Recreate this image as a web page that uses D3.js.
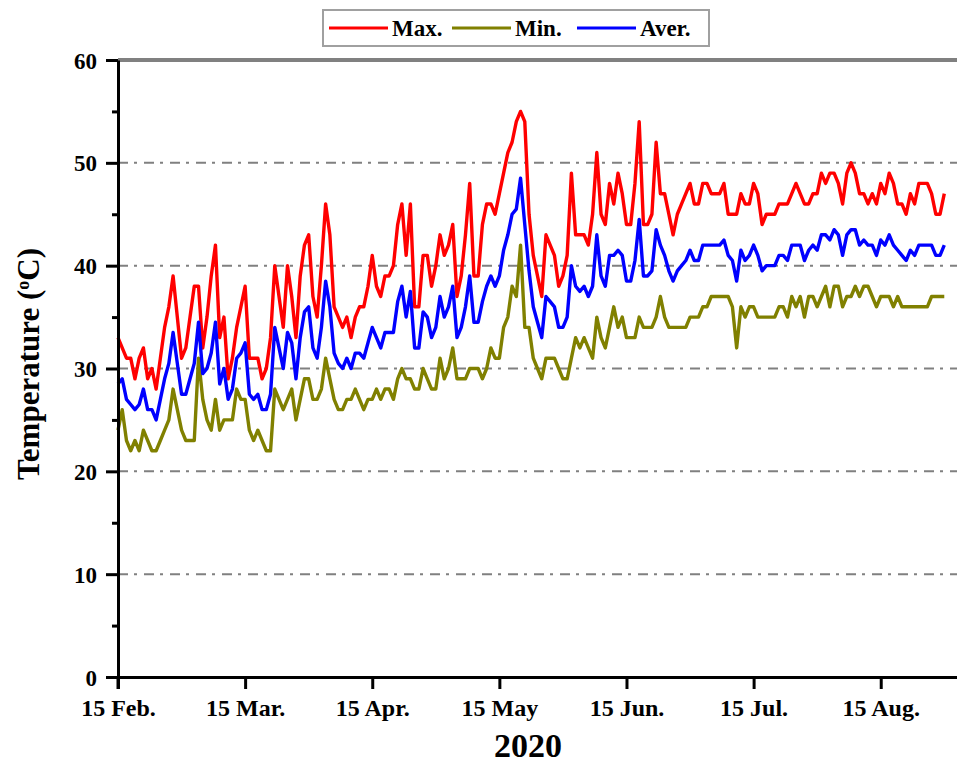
<!DOCTYPE html>
<html>
<head>
<meta charset="utf-8">
<script src="https://cdn.jsdelivr.net/npm/d3@7"></script>
<style>
	body { margin: 0; background: #fff; }
	svg text { font-family: "Liberation Serif", "Times New Roman", serif; font-weight: bold; fill: #000; }
</style>
</head>
<body>
<svg id="chart" width="957" height="765"></svg>
<script>
// daily readings, day 0 = 15 Feb 2020
var maxTemp = [
	33,32,31,31,29,31,32,29,30,28, 31,34,36,39,35,31,32,35,38,38,
	32,35,39,42,33,35,29,31,34,36, 38,31,31,31,29,30,33,40,37,34,
	40,37,33,39,42,43,37,35,40,46, 43,36,35,34,35,33,35,36,36,38,
	41,38,37,39,39,40,44,46,41,46, 36,36,41,41,38,40,43,41,42,44,
	37,39,43,48,39,39,44,46,46,45, 47,49,51,52,54,55,54,45,41,39,
	37,43,42,41,38,39,41,49,43,43, 43,42,45,51,45,44,48,46,49,47,
	44,44,48,54,44,44,45,52,47,47, 45,43,45,46,47,48,46,46,48,48,
	47,47,47,48,45,45,45,47,46,46, 48,47,44,45,45,45,46,46,46,47,
	48,47,46,46,47,47,49,48,49,49, 48,46,49,50,49,47,47,46,47,46,
	48,47,49,48,46,46,45,47,46,48, 48,48,47,45,45,47
];
var minTemp = [
	24,26,23,22,23,22,24,23,22,22, 23,24,25,28,26,24,23,23,23,31,
	27,25,24,27,24,25,25,25,28,27, 27,24,23,24,23,22,22,28,27,26,
	27,28,25,27,29,29,27,27,28,31, 29,27,26,26,27,27,28,27,26,27,
	27,28,27,28,28,27,29,30,29,29, 28,28,30,29,28,28,31,29,30,32,
	29,29,29,30,30,30,29,30,32,31, 31,34,35,38,37,42,34,34,31,30,
	29,31,31,31,30,29,29,31,33,32, 33,32,31,35,33,32,34,36,34,35,
	33,33,33,35,34,34,34,35,37,35, 34,34,34,34,34,35,35,35,36,36,
	37,37,37,37,37,36,32,36,35,36, 36,35,35,35,35,35,36,36,35,37,
	36,37,35,37,37,36,37,38,36,38, 38,36,37,37,38,37,38,38,37,36,
	37,37,37,36,37,36,36,36,36,36, 36,36,37,37,37,37
];
var averTemp = [
	28.5,29,27,26.5,26,26.5,28,26,26,25, 27,29,30.5,33.5,30.5,27.5,27.5,29,30.5,34.5,
	29.5,30,31.5,34.5,28.5,30,27,28,31,31.5, 32.5,27.5,27,27.5,26,26,27.5,34,32,30,
	33.5,32.5,29,33,35.5,36,32,31,34,38.5, 36,31.5,30.5,30,31,30,31.5,31.5,31,32.5,
	34,33,32,33.5,33.5,33.5,36.5,38,35,37.5, 32,32,35.5,35,33,34,37,35,36,38,
	33,34,36,39,34.5,34.5,36.5,38,39,38, 39,41.5,43,45,45.5,48.5,44,39.5,36,34.5,
	33,37,36.5,36,34,34,35,40,38,37.5, 38,37,38,43,39,38,41,41,41.5,41,
	38.5,38.5,40.5,44.5,39,39,39.5,43.5,42,41, 39.5,38.5,39.5,40,40.5,41.5,40.5,40.5,42,42,
	42,42,42,42.5,41,40.5,38.5,41.5,40.5,41, 42,41,39.5,40,40,40,41,41,40.5,42,
	42,42,40.5,41.5,42,41.5,43,43,42.5,43.5, 43,41,43,43.5,43.5,42,42.5,42,42,41,
	42.5,42,43,42,41.5,41,40.5,41.5,41,42, 42,42,42,41,41,42
];

var yTicks = [0, 10, 20, 30, 40, 50, 60];
var yMinorTicks = [5, 15, 25, 35, 45, 55];
var gridValues = [10, 20, 30, 40, 50];
var xTickDays = [0, 30, 60, 90, 120, 150, 180];
var xTickLabels = ["15 Feb.", "15 Mar.", "15 Apr.", "15 May", "15 Jun.", "15 Jul.", "15 Aug."];

var seriesNames = ["Max.", "Min.", "Aver."];
var seriesColors = ["#ff0000", "#808000", "#0000ff"];

var plotLeft = 118, plotRight = 957, plotTop = 60, plotBottom = 677;

var svg = d3.select("#chart");

var x = d3.scaleLinear().domain([0, 198]).range([plotLeft, plotRight]);
var y = d3.scaleLinear().domain([0, 60]).range([plotBottom, plotTop]);

// dash-dot grid
svg.append("g").selectAll("line")
	.data(gridValues)
	.enter().append("line")
	.attr("x1", plotLeft).attr("x2", plotRight)
	.attr("y1", function(d) { return y(d); })
	.attr("y2", function(d) { return y(d); })
	.attr("stroke", "#808080")
	.attr("stroke-width", 2)
	.attr("stroke-dasharray", "10,6,3,7");

// solid top frame line
svg.append("line")
	.attr("x1", plotLeft).attr("x2", plotRight)
	.attr("y1", y(60)).attr("y2", y(60))
	.attr("stroke", "#808080")
	.attr("stroke-width", 4);

// data lines
var allSeries = [maxTemp, minTemp, averTemp];
allSeries.forEach(function(values, i) {
	var line = d3.line()
		.x(function(d, j) { return x(j); })
		.y(function(d) { return y(d); });
	svg.append("path")
		.datum(values)
		.attr("fill", "none")
		.attr("stroke", seriesColors[i])
		.attr("stroke-width", 3.4)
		.attr("stroke-linejoin", "round")
		.attr("d", line);
});

// y axis
var yAxis = svg.append("g")
	.attr("transform", "translate(" + plotLeft + ",0)")
	.call(d3.axisLeft(y).tickValues(yTicks).tickSize(12).tickSizeOuter(0).tickPadding(9));
yAxis.selectAll("text").style("font-size", "23px").attr("dy", "0.35em");

var yMinor = svg.append("g")
	.attr("transform", "translate(" + plotLeft + ",0)")
	.call(d3.axisLeft(y).tickValues(yMinorTicks).tickSize(6).tickSizeOuter(0).tickFormat(""));
yMinor.select(".domain").remove();

// x axis
var xAxis = svg.append("g")
	.attr("transform", "translate(0," + plotBottom + ")")
	.call(d3.axisBottom(x).tickValues(xTickDays)
		.tickFormat(function(d, i) { return xTickLabels[i]; })
		.tickSize(12).tickSizeOuter(0).tickPadding(8));
xAxis.selectAll("text").style("font-size", "24px").attr("dy", "0.8em");

svg.selectAll(".domain").attr("stroke", "#000").attr("stroke-width", 3);
svg.selectAll(".tick line").attr("stroke", "#000").attr("stroke-width", 3);

// extend the y axis line down to the tick length
svg.append("line")
	.attr("x1", plotLeft).attr("x2", plotLeft)
	.attr("y1", plotBottom).attr("y2", plotBottom + 12)
	.attr("stroke", "#000").attr("stroke-width", 3);

// axis titles
svg.append("text")
	.attr("x", 528).attr("y", 757)
	.attr("text-anchor", "middle")
	.style("font-size", "34px")
	.text("2020");

var yTitle = svg.append("text")
	.attr("transform", "translate(39,364) rotate(-90)")
	.attr("text-anchor", "middle")
	.style("font-size", "31px");
yTitle.append("tspan").text("Temperature (");
yTitle.append("tspan").attr("baseline-shift", "super").style("font-size", "18px").text("o");
yTitle.append("tspan").text("C)");

// legend
var legend = svg.append("g").attr("transform", "translate(323,10)");
legend.append("rect")
	.attr("width", 386).attr("height", 36)
	.attr("fill", "#fff")
	.attr("stroke", "#a0a0a0")
	.attr("stroke-width", 2);

var legendX = [6, 129, 254];
var legendItem = legend.selectAll(".item")
	.data(seriesNames)
	.enter().append("g")
	.attr("class", "item")
	.attr("transform", function(d, i) { return "translate(" + legendX[i] + ",0)"; });
legendItem.append("line")
	.attr("x1", 0).attr("x2", 59)
	.attr("y1", 18).attr("y2", 18)
	.attr("stroke", function(d, i) { return seriesColors[i]; })
	.attr("stroke-width", 3);
legendItem.append("text")
	.attr("x", 63).attr("y", 26)
	.style("font-size", "23px")
	.text(function(d) { return d; });
</script>
</body>
</html>
